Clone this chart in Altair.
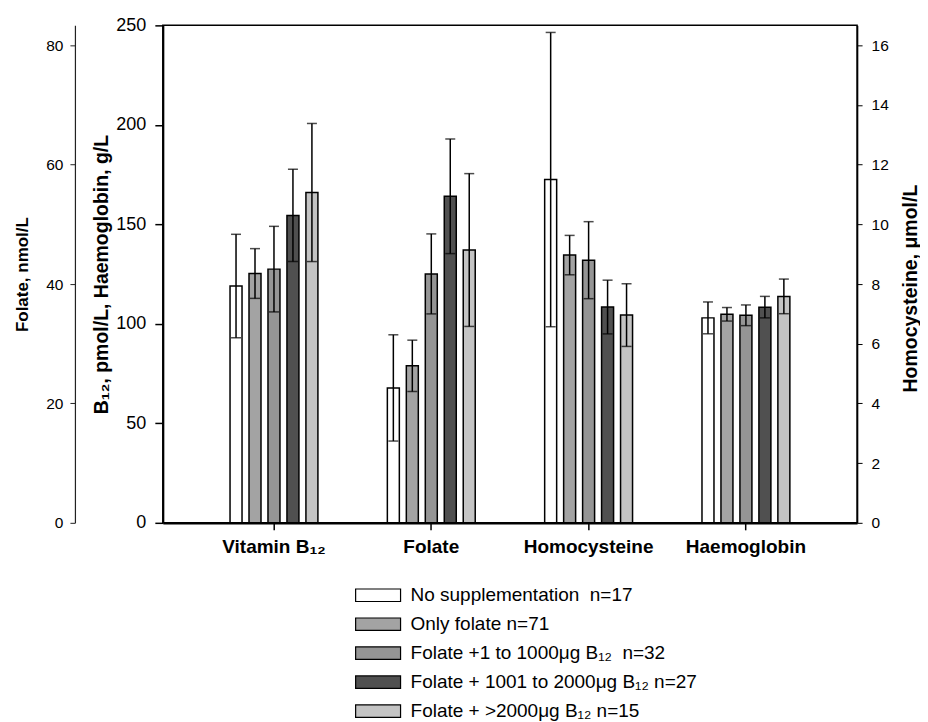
import altair as alt
import pandas as pd

FONT = "Liberation Sans"

groups = ["Vitamin B₁₂", "Folate", "Homocysteine", "Haemoglobin"]
series = [
    "No supplementation\u00a0 n=17",
    "Only folate n=71",
    "Folate +1 to 1000μg B₁₂\u00a0 n=32",
    "Folate + 1001 to 2000μg B₁₂ n=27",
    "Folate + >2000μg B₁₂ n=15",
]
fills = ["#ffffff", "#a3a3a3", "#959595", "#505050", "#c4c4c4"]

# Vitamin B12, pmol/L (left inner axis)
b12_mean = [119.0, 125.3, 127.5, 154.5, 166.0]
b12_sd = [26.0, 12.5, 21.5, 23.2, 34.7]
# Folate, nmol/L (left outer axis)
folate_mean = [22.6, 26.3, 41.7, 54.7, 45.7]
folate_sd = [8.9, 4.3, 6.7, 9.6, 12.8]
# Homocysteine, umol/L (right axis)
hcy_mean = [11.5, 8.97, 8.8, 7.23, 6.96]
hcy_sd = [4.93, 0.66, 1.29, 0.9, 1.05]
# Haemoglobin, g/L (left inner axis)
hb_mean = [103.0, 104.8, 104.3, 108.4, 113.8]
hb_sd = [8.0, 3.4, 5.2, 5.4, 8.7]

rows = []
for g, means, sds in zip(groups,
                         [b12_mean, folate_mean, hcy_mean, hb_mean],
                         [b12_sd, folate_sd, hcy_sd, hb_sd]):
    for s, m, sd in zip(series, means, sds):
        rows.append({"group": g, "series": s, "mean": m, "lo": m - sd, "hi": m + sd})
df = pd.DataFrame(rows)

x_scale = alt.Scale(domain=groups, paddingInner=0.397, paddingOuter=0.405)
off_scale = alt.Scale(domain=series, paddingInner=0.368, paddingOuter=0.184)
fill_scale = alt.Scale(domain=series, range=fills)

x_axis = alt.Axis(labelAngle=0, labelFont=FONT, labelFontSize=19, labelFontWeight="bold",
                  labelColor="black", tickSize=7, tickWidth=1.5, tickColor="black",
                  domainWidth=2.5, domainColor="black", labelPadding=8, title=None)

legend = alt.Legend(orient="none", legendX=206, legendY=561, title=None,
                    symbolType="M-3.46,-0.96H3.46V0.96H-3.46Z", symbolSize=169,
                    symbolStrokeColor="black", symbolStrokeWidth=1.2, symbolOpacity=1,
                    labelFont=FONT, labelFontSize=19, labelColor="black", labelLimit=600,
                    labelOffset=23, rowPadding=9, direction="vertical")

main_axis = alt.Axis(orient="left", values=[0, 50, 100, 150, 200, 250], tickSize=8, tickWidth=1.5,
                     tickColor="black", domainWidth=2, domainColor="black",
                     labelFont=FONT, labelFontSize=18, labelColor="black", labelPadding=9,
                     title="B₁₂, pmol/L, Haemoglobin, g/L", titleFont=FONT, titleFontSize=19.5,
                     titleFontWeight="bold", titleColor="black", titlePadding=4, grid=False)

folate_axis = alt.Axis(orient="left", offset=88, values=[0, 20, 40, 60, 80], tickSize=5, tickWidth=1,
                       tickColor="#222", domainWidth=1.2, domainColor="#222",
                       labelFont=FONT, labelFontSize=15.5, labelColor="black", labelPadding=7,
                       title="Folate, nmol/L", titleFont=FONT, titleFontSize=17,
                       titleFontWeight="bold", titleColor="black", titlePadding=14, grid=False)

hcy_axis = alt.Axis(orient="right", values=list(range(0, 17, 2)), tickSize=5, tickWidth=1,
                    tickColor="black", domainWidth=1.5, domainColor="black",
                    labelFont=FONT, labelFontSize=15.5, labelColor="black", labelPadding=9,
                    title="Homocysteine, μmol/L", titleFont=FONT, titleFontSize=19.5,
                    titleFontWeight="bold", titleColor="black", titlePadding=13,
                    titleAngle=270, titleBaseline="top", titleY=263, titleAlign="center",
                    grid=False)


def panel(subset, domain, axis):
    base = alt.Chart(df).transform_filter(
        alt.FieldOneOfPredicate(field="group", oneOf=subset)
    ).encode(
        x=alt.X("group:N", scale=x_scale, sort=groups, axis=x_axis),
        xOffset=alt.XOffset("series:N", scale=off_scale, sort=series),
    )
    yscale = alt.Scale(domain=domain, nice=False, zero=True)
    bars = base.mark_bar(stroke="black", strokeWidth=1.5).encode(
        y=alt.Y("mean:Q", scale=yscale, axis=axis),
        fill=alt.Fill("series:N", scale=fill_scale, sort=series, legend=legend),
    )
    rule = base.mark_rule(color="black", strokeWidth=1.5).encode(
        y=alt.Y("lo:Q", axis=axis), y2="hi:Q"
    )
    cap_hi = base.mark_tick(color="black", size=10, thickness=1.5).encode(
        y=alt.Y("hi:Q", axis=axis)
    )
    cap_lo = base.mark_tick(color="black", size=10, thickness=1.5).encode(
        y=alt.Y("lo:Q", axis=axis)
    )
    return alt.layer(bars, rule, cap_hi, cap_lo)


main = panel(["Vitamin B₁₂", "Haemoglobin"], [0, 250], main_axis)
fol = panel(["Folate"], [0, 250 / 3], folate_axis)
hcy = panel(["Homocysteine"], [0, 250 / 15], hcy_axis)

chart = alt.layer(main, fol, hcy).resolve_scale(y="independent").properties(
    width=695, height=498,
    padding={"left": 5, "top": 8, "right": 0, "bottom": 0},
    background="white",
).configure_view(stroke="black", strokeWidth=1.5)

chart.save("out.html", embed_options={"renderer": "svg", "actions": False})
